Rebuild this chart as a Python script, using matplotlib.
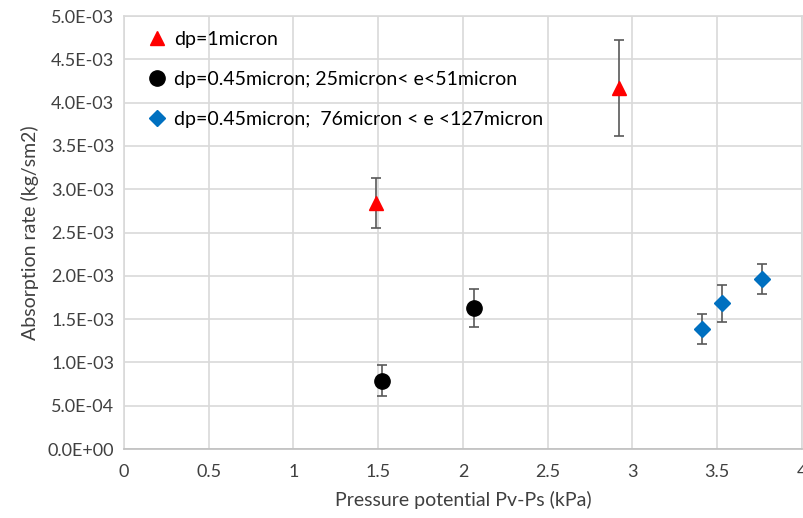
import matplotlib
matplotlib.use('Agg')
import matplotlib.pyplot as plt
from matplotlib.ticker import FuncFormatter, MultipleLocator

plt.rcParams['font.family'] = ['Lato', 'DejaVu Sans']

# dp = 1 micron
red_x = [1.485, 2.92]
red_y = [2.845e-3, 4.17e-3]
red_err = [0.29e-3, 0.55e-3]

# dp = 0.45 micron, 25 < e < 51
black_x = [1.524, 2.063]
black_y = [0.79e-3, 1.625e-3]
black_err = [0.18e-3, 0.22e-3]

# dp = 0.45 micron, 76 < e < 127
blue_x = [3.41, 3.528, 3.762]
blue_y = [1.385e-3, 1.682e-3, 1.962e-3]
blue_err = [0.175e-3, 0.21e-3, 0.175e-3]

labels = ['dp=1micron',
          'dp=0.45micron; 25micron< e<51micron',
          'dp=0.45micron;  76micron < e <127micron']

fig = plt.figure(figsize=(8.04, 5.18), dpi=100)
ax = fig.add_axes([0.1542, 0.1332, 0.8433, 0.8359])

errcol = '#595959'
for xs, ys, es in [(red_x, red_y, red_err), (black_x, black_y, black_err), (blue_x, blue_y, blue_err)]:
    ax.errorbar(xs, ys, yerr=es, fmt='none', ecolor=errcol, elinewidth=1.2, capsize=3.5, capthick=1.2, zorder=3)

ax.plot(red_x, red_y, '^', color='#FF0000', ms=10, ls='none', label=labels[0], zorder=4)
ax.plot(black_x, black_y, 'o', color='#000000', ms=11, ls='none', label=labels[1], zorder=4)
ax.plot(blue_x, blue_y, 'D', color='#0070C0', ms=8, ls='none', label=labels[2], zorder=4)

ax.set_xlim(0, 4)
ax.set_ylim(0, 5e-3)
ax.xaxis.set_major_locator(MultipleLocator(0.5))
ax.yaxis.set_major_locator(MultipleLocator(0.5e-3))
ax.xaxis.set_major_formatter(FuncFormatter(lambda v, p: '%g' % v))
ax.yaxis.set_major_formatter(FuncFormatter(lambda v, p: '%.1E' % v))
ax.grid(True, color='#D9D9D9', linewidth=1.2)
ax.set_axisbelow(True)
for s in ax.spines.values():
    s.set_color('#D9D9D9')
    s.set_linewidth(1.2)
ax.spines['bottom'].set_color('#BFBFBF')
ax.tick_params(length=0, labelsize=13, colors='#404040', pad=7)
ax.tick_params(axis='x', pad=11)

ax.set_xlabel('Pressure potential Pv-Ps (kPa)', fontsize=14, color='#404040', labelpad=8)
ax.set_ylabel('Absorption rate (kg/sm2)', fontsize=14, color='#404040', labelpad=6)

leg = ax.legend(loc='upper left', bbox_to_anchor=(0.02, 0.992), frameon=False, fontsize=14,
                handlelength=0.8, handletextpad=0.5, labelspacing=1.18, borderaxespad=0.2)
for t in leg.get_texts():
    t.set_color('#000000')

fig.savefig('out.png', dpi=100)
